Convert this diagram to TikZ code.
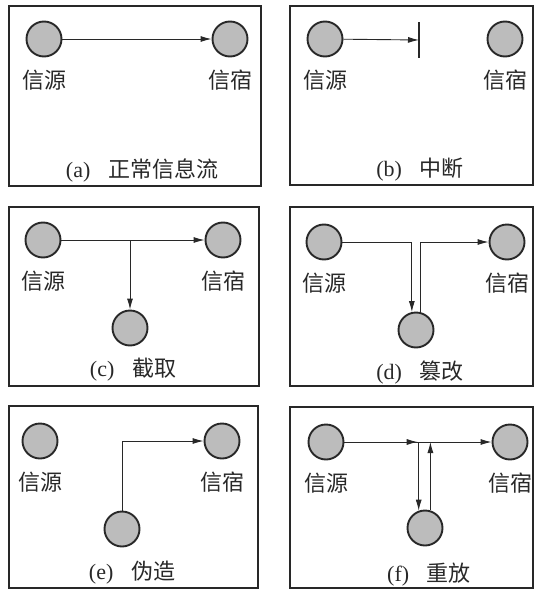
\documentclass[tikz,border=0pt]{standalone}
\usepackage{fontspec}
\setmainfont{Liberation Serif}
\newfontfamily\cjk{Noto Sans CJK SC}
\usetikzlibrary{positioning,arrows.meta}
\definecolor{ink}{RGB}{40,40,40}
\definecolor{shade}{RGB}{188,188,188}
\tikzstyle{host} = [circle, draw=ink, line width=1.9pt, fill=shade, minimum size=35pt, inner sep=0pt]
\tikzstyle{lab} = [text=ink, font=\cjk\fontsize{22}{22}\selectfont, inner sep=0pt]
\tikzstyle{legend} = [text=ink, font=\fontsize{22}{22}\selectfont, inner sep=0pt]
\tikzstyle{frame} = [draw=ink, line width=1.8pt]
\tikzstyle{flow} = [draw=ink, line width=0.9pt, -{Latex[length=11pt,width=6pt]}]

\begin{document}
\begin{tikzpicture}[x=1pt, y=-1pt]
\useasboundingbox (0,0) rectangle (534,589);
% (a)
\draw [frame] (9,6) rectangle (261,186);
\node [host] (a-src) at (44,39) {};
\node [host] (a-snk) at (230,39) {};
\node [lab] (a-srcl) [below=12pt of a-src] {信源};
\node [lab] (a-snkl) [below=12pt of a-snk] {信宿};
\node [legend] (a-leg) at (142,170) {(a)\hspace{0.8em}{\cjk 正常信息流}};
\draw [flow] (a-src) -- (a-snk);
% (b)
\draw [frame] (290,6) rectangle (533,185);
\node [host] (b-src) at (325,39) {};
\node [host] (b-snk) at (505,39) {};
\node [lab] (b-srcl) [below=12pt of b-src] {信源};
\node [lab] (b-snkl) [below=12pt of b-snk] {信宿};
\node [legend] (b-leg) at (420,170) {(b)\hspace{0.8em}{\cjk 中断}};
\coordinate (b-cut) at (419,40);
\draw [flow] (b-src) -- (b-cut);
\draw [ink, line width=1.6pt] ([yshift=18pt]b-cut) -- ([yshift=-18pt]b-cut);
% (c)
\draw [frame] (9,207) rectangle (259,386);
\node [host] (c-src) at (43,240) {};
\node [host] (c-snk) at (223,240) {};
\node [host] (c-mid) at (130,328) {};
\node [lab] (c-srcl) [below=12pt of c-src] {信源};
\node [lab] (c-snkl) [below=12pt of c-snk] {信宿};
\node [legend] (c-leg) at (133,370) {(c)\hspace{0.8em}{\cjk 截取}};
\draw [flow] (c-src) -- (c-snk);
\draw [flow] (c-mid |- c-src) -- (c-mid);
% (d)
\draw [frame] (290,207) rectangle (533,386);
\node [host] (d-src) at (324,242) {};
\node [host] (d-snk) at (507,242) {};
\node [host] (d-mid) at (416,330) {};
\node [lab] (d-srcl) [below=12pt of d-src] {信源};
\node [lab] (d-snkl) [below=12pt of d-snk] {信宿};
\node [legend] (d-leg) at (420,372) {(d)\hspace{0.8em}{\cjk 篡改}};
\draw [flow] (d-src) -| (d-mid.103);
\draw [flow] (d-mid.77) |- (d-snk);
% (e)
\draw [frame] (9,406) rectangle (258,588);
\node [host] (e-src) at (40,441) {};
\node [host] (e-snk) at (222,441) {};
\node [host] (e-mid) at (122,529) {};
\node [lab] (e-srcl) [below=12pt of e-src] {信源};
\node [lab] (e-snkl) [below=12pt of e-snk] {信宿};
\node [legend] (e-leg) at (132,573) {(e)\hspace{0.8em}{\cjk 伪造}};
\draw [flow] (e-mid) |- (e-snk);
% (f)
\draw [frame] (290,407) rectangle (533,588);
\node [host] (f-src) at (326,442) {};
\node [host] (f-snk) at (510,442) {};
\node [host] (f-mid) at (425,528) {};
\node [lab] (f-srcl) [below=12pt of f-src] {信源};
\node [lab] (f-snkl) [below=12pt of f-snk] {信宿};
\node [legend] (f-leg) at (429,575) {(f)\hspace{0.8em}{\cjk 重放}};
\coordinate (f-in) at (f-mid.110 |- f-src);
\coordinate (f-out) at (f-mid.73 |- f-src);
\draw [flow] (f-src) -- (f-snk);
\draw [flow] (f-src) -- ([xshift=-1pt]f-in);
\draw [flow] (f-in) -- (f-mid.110);
\draw [flow] (f-mid.73) -- (f-out);
\end{tikzpicture}
\end{document}
